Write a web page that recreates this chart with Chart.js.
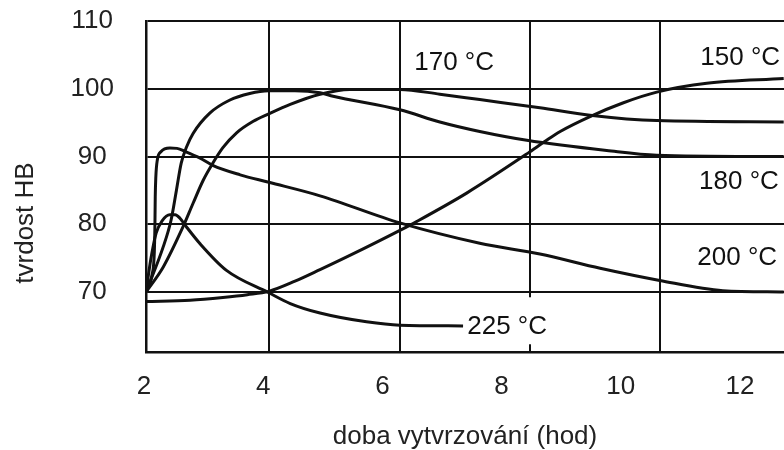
<!DOCTYPE html>
<html><head><meta charset="utf-8">
<script src="https://cdn.jsdelivr.net/npm/chart.js@4"></script>
<style>html,body{margin:0;padding:0;background:#fff;overflow:hidden}#wrap{width:784px;height:450px;position:relative}</style>
</head><body><div id="wrap"><canvas id="c" width="784" height="450"></canvas></div>
<script>
// ---- data (hours, hardness HB) ----
const xTickLabels = [2, 4, 6, 8, 10, 12];
const yTickLabels = [70, 80, 90, 100, 110];
const xGridHours = [4.06, 6.26, 8.44, 10.62];
const xTitle = 'doba vytvrzování (hod)';
const yTitle = 'tvrdost HB';
const seriesNames = ['150 °C', '170 °C', '180 °C', '200 °C', '225 °C'];

const h150 = [2.0, 2.74, 3.29, 3.7, 4.06, 4.5, 4.92, 5.42, 6.26, 6.54, 7.38, 8.41, 8.69, 8.95, 9.45, 10.0, 10.57, 11.41, 12.7];
const v150 = [68.6, 68.8, 69.2, 69.6, 70.1, 71.6, 73.3, 75.4, 79.1, 80.4, 84.6, 90.5, 92.2, 93.7, 95.9, 97.9, 99.5, 100.8, 101.5];

const h170 = [2.0, 2.29, 2.62, 2.79, 2.96, 3.12, 3.29, 3.52, 3.8, 4.06, 4.42, 4.92, 5.42, 6.26, 6.93, 7.6, 8.61, 9.45, 10.57, 12.7];
const v170 = [70.0, 73.7, 79.6, 83.1, 86.5, 89.0, 91.3, 93.5, 95.2, 96.3, 97.7, 99.2, 99.9, 99.9, 99.2, 98.4, 97.2, 96.1, 95.3, 95.1];

const h180 = [2.0, 2.29, 2.42, 2.51, 2.59, 2.68, 2.79, 3.07, 3.4, 3.74, 4.06, 4.5, 4.92, 5.14, 6.26, 6.93, 7.6, 8.39, 9.73, 10.57, 12.7];
const v180 = [70.0, 76.7, 80.6, 85.0, 89.0, 91.4, 93.4, 96.4, 98.3, 99.3, 99.7, 99.7, 99.4, 98.9, 96.9, 95.1, 93.7, 92.4, 90.9, 90.2, 90.0];

const h200 = [2.0, 2.1, 2.14, 2.15, 2.155, 2.165, 2.19, 2.25, 2.4, 2.52, 2.67, 2.9, 3.12, 3.58, 4.06, 4.92, 6.26, 7.6, 8.61, 9.62, 10.62, 11.68, 12.7];
const v200 = [70.0, 72.5, 76.0, 80.0, 84.0, 87.0, 89.5, 90.7, 91.25, 91.2, 90.7, 89.8, 88.7, 87.3, 86.2, 84.2, 80.2, 77.2, 75.6, 73.5, 71.7, 70.2, 70.0];

const h225 = [2.0, 2.08, 2.17, 2.27, 2.4, 2.49, 2.57, 2.68, 2.9, 3.35, 4.06, 4.42, 4.92, 5.7, 6.26, 7.32];
const v225 = [70.0, 74.8, 78.7, 80.5, 81.4, 81.4, 80.9, 79.6, 77.2, 73.2, 69.9, 68.3, 66.9, 65.6, 65.1, 65.0];

// curve label anchors (hours, HB)
const labelHours = [11.97, 7.17, 11.95, 11.92, 7.39];
const labelHardness = [104.5, 103.8, 86.2, 75.0, 64.8];

// ---- chart ----
const FONT = "'Liberation Sans', Arial, Helvetica, sans-serif";
const series = [[h150, v150], [h170, v170], [h180, v180], [h200, v200], [h225, v225]];
const yLabelShift = [-7, -3, -4, -2, 2];

const annot = {
  id: 'annot',
  afterDatasetsDraw(chart) {
    const { ctx, scales: { x, y } } = chart;
    ctx.save();
    ctx.font = '26px ' + FONT;
    ctx.textBaseline = 'middle';
    seriesNames.forEach((t, i) => {
      const px = x.getPixelForValue(labelHours[i]);
      const py = y.getPixelForValue(labelHardness[i]);
      if (i === 4) {
        const w = ctx.measureText(t).width;
        ctx.fillStyle = '#fff';
        ctx.fillRect(px - 3, py - 30, w + 8, 47);
        ctx.fillStyle = '#111';
        ctx.textAlign = 'left';
      } else {
        ctx.fillStyle = '#111';
        ctx.textAlign = 'center';
      }
      ctx.fillText(t, px, py);
    });
    ctx.translate(26, 223);
    ctx.rotate(-Math.PI / 2);
    ctx.textAlign = 'center';
    ctx.fillStyle = '#222';
    ctx.fillText(yTitle, 0, 0);
    ctx.restore();
  }
};

new Chart(document.getElementById('c').getContext('2d'), {
  type: 'line',
  data: {
    datasets: series.map((s, k) => ({
      label: seriesNames[k],
      data: s[0].map((hx, i) => ({ x: hx, y: s[1][i] })),
      xAxisID: 'x', yAxisID: 'y',
      borderColor: '#111', borderWidth: 3, pointRadius: 0,
      cubicInterpolationMode: 'monotone', fill: false
    }))
  },
  options: {
    responsive: false, animation: false, devicePixelRatio: 1,
    layout: { padding: { top: 21, right: 0, bottom: 0, left: 0 } },
    plugins: { legend: { display: false }, tooltip: { enabled: false } },
    scales: {
      x: {
        type: 'linear', position: 'bottom', min: 2, max: 12.705,
        afterBuildTicks: s => { s.ticks = xTickLabels.map(v => ({ value: v })); },
        afterFit: s => { s.height = 98; },
        grid: { display: false, drawTicks: false },
        border: { display: true, color: '#111', width: 2.5 },
        ticks: { font: { family: FONT, size: 26 }, color: '#222', padding: 19, labelOffset: -2, maxRotation: 0, autoSkip: false },
        title: { display: true, text: xTitle, font: { family: FONT, size: 26, lineHeight: 1 }, color: '#222', padding: { top: 0, bottom: 0 } }
      },
      xg: {
        type: 'linear', position: 'top', min: 2, max: 12.705,
        afterBuildTicks: s => { s.ticks = xGridHours.map(v => ({ value: v })); },
        afterFit: s => { s.height = 0; },
        ticks: { display: false },
        grid: { color: '#111', lineWidth: 2, drawTicks: false },
        border: { display: false }
      },
      y: {
        type: 'linear', min: 61.15, max: 110,
        afterBuildTicks: s => { s.ticks = yTickLabels.map(v => ({ value: v })); },
        afterFit: s => { s.width = 146; },
        grid: { color: '#111', lineWidth: 2, drawTicks: true, tickLength: 32, tickColor: 'rgba(0,0,0,0)' },
        border: { display: true, color: '#111', width: 2.5 },
        ticks: { font: { family: FONT, size: 26 }, color: '#222', padding: 0, crossAlign: 'center',
                 labelOffset: c => yLabelShift[c.index] || 0 }
      }
    }
  },
  plugins: [annot]
});
</script>
</body></html>
